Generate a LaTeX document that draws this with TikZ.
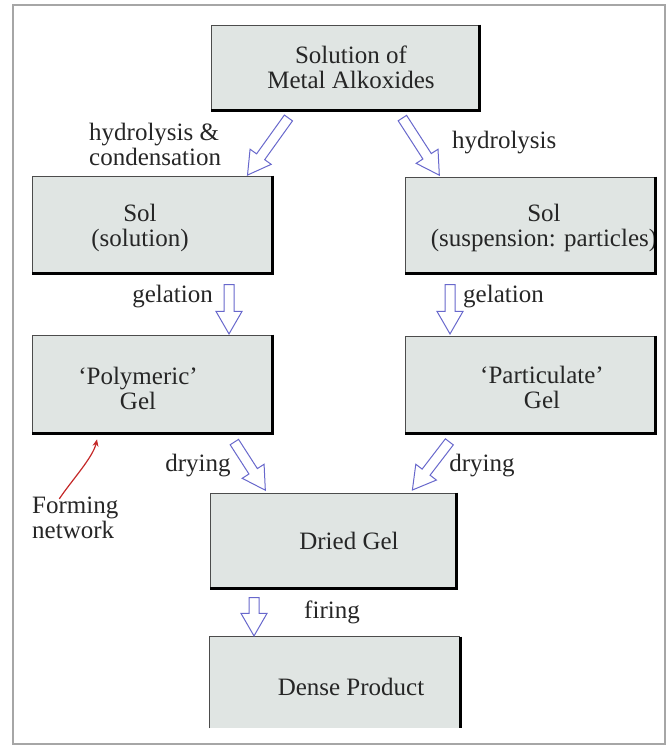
\documentclass[tikz,border=0pt]{standalone}
\usepackage{fontspec}
\setmainfont{Liberation Serif}
\usetikzlibrary{calc,shapes.arrows,arrows.meta}

\definecolor{boxfill}{RGB}{224,229,227}
\definecolor{arrowblue}{RGB}{104,104,204}
\definecolor{netred}{RGB}{196,40,40}

\begin{document}
\begin{tikzpicture}[x=1pt,y=-1pt,
  every node/.style={font=\fontsize{25}{25}\selectfont, text=black!85},
  box/.style={rectangle, fill=boxfill, draw=black!70, line width=0.8pt, inner sep=0pt},
  shadowline/.style={line width=3pt, black},
  steplabel/.style={inner sep=0pt},
  hollowtip/.style={single arrow, draw=arrowblue, fill=white, line width=1pt,
    inner xsep=0pt, inner ysep=4.5pt, minimum width=0pt,
    single arrow head extend=8pt, single arrow tip angle=60,
    single arrow head indent=0pt},
  blockarrow/.style={to path={let \p1=(\tikztostart), \p2=(\tikztotarget),
    \n1={veclen(\x2-\x1,\y2-\y1)} in -- (\tikztotarget)
    node[midway, sloped, allow upside down, hollowtip, minimum height=\n1] {}}},
  netarrow/.style={draw=netred, line width=1.2pt, -{Stealth[length=7pt,width=6pt]}}
]
\useasboundingbox (0,0) rectangle (667,746);
\draw[black!35, line width=1.2pt] (13,5) rectangle (665,744);

% boxes
\node[box, minimum width=268, minimum height=85,
  label={[align=center, xshift=6pt]center:Solution of\\Metal Alkoxides}] (top) at (345,67.5) {};
\node[box, minimum width=240, minimum height=97,
  label={[align=center, xshift=-12pt, yshift=-3pt]center:Sol\\(solution)}] (solL) at (152,224.5) {};
\node[box, minimum width=250, minimum height=96,
  label={[align=center, xshift=14pt, yshift=-3pt]center:Sol\\(suspension: particles)}] (solR) at (530,225) {};
\node[box, minimum width=240, minimum height=98,
  label={[align=center, xshift=-14pt, yshift=-4pt]center:`Polymeric'\\Gel}] (polyL) at (152,384) {};
\node[box, minimum width=250, minimum height=97,
  label={[align=center, xshift=12pt, yshift=-3pt]center:`Particulate'\\Gel}] (partR) at (530,384.5) {};
\node[box, minimum width=246, minimum height=95,
  label={[xshift=16pt]center:Dried Gel}] (dried) at (333,540.5) {};
\node[box, draw=none, minimum width=250, minimum height=91,
  label={[xshift=16pt, yshift=-4pt]center:Dense Product}] (dense) at (335,682.5) {};

\foreach \b in {top,solL,solR,polyL,partR,dried}
  \draw[shadowline] (\b.north east) -- (\b.south east) -- (\b.south west);
\draw[black!70, line width=0.8pt] (dense.south west) -- (dense.north west) -- (dense.north east);
\draw[shadowline] (dense.north east) -- (dense.south east);

% step labels
\node[steplabel, align=left, anchor=west] (hydcond) at (89,144) {hydrolysis \&\\condensation};
\node[steplabel, anchor=west] (hyd) at (452,143) {hydrolysis};
\node[steplabel, anchor=east] (gelL) at (213,297) {gelation};
\node[steplabel, anchor=west] (gelR) at (463,297) {gelation};
\node[steplabel] (dryL) at (198,466) {drying};
\node[steplabel] (dryR) at (482,466) {drying};
\node[steplabel] (fire) at (332,612) {firing};
\node[steplabel, align=left, anchor=west] (forming) at (32,518) {Forming\\network};

% hollow arrows
\path[blockarrow] ([xshift=-54pt,yshift=-4pt]top.south) to ([xshift=98pt,yshift=4pt]solL.north);
\path[blockarrow] ([xshift=55pt,yshift=-4pt]top.south) to ([xshift=-93pt,yshift=5pt]solR.north);
\path[blockarrow] ([xshift=77pt,yshift=-7pt]solL.south) to ([xshift=77pt,yshift=5pt]polyL.north);
\path[blockarrow] ([xshift=-80pt,yshift=-7pt]solR.south) to ([xshift=-80pt,yshift=6pt]partR.north);
\path[blockarrow] ([xshift=80pt,yshift=-5pt]polyL.south) to ([xshift=-70pt,yshift=6pt]dried.north);
\path[blockarrow] ([xshift=-78pt,yshift=-5pt]partR.south) to ([xshift=82pt,yshift=6pt]dried.north);
\path[blockarrow] ([xshift=-79pt,yshift=-5pt]dried.south) to ([xshift=-81pt,yshift=5pt]dense.north);

% red pointer
\draw[netarrow] ([xshift=-16pt,yshift=-2pt]forming.north)
  .. controls +(12,-18) and +(-4,18) .. ([xshift=-55pt,yshift=-6pt]polyL.south);
\end{tikzpicture}
\end{document}
